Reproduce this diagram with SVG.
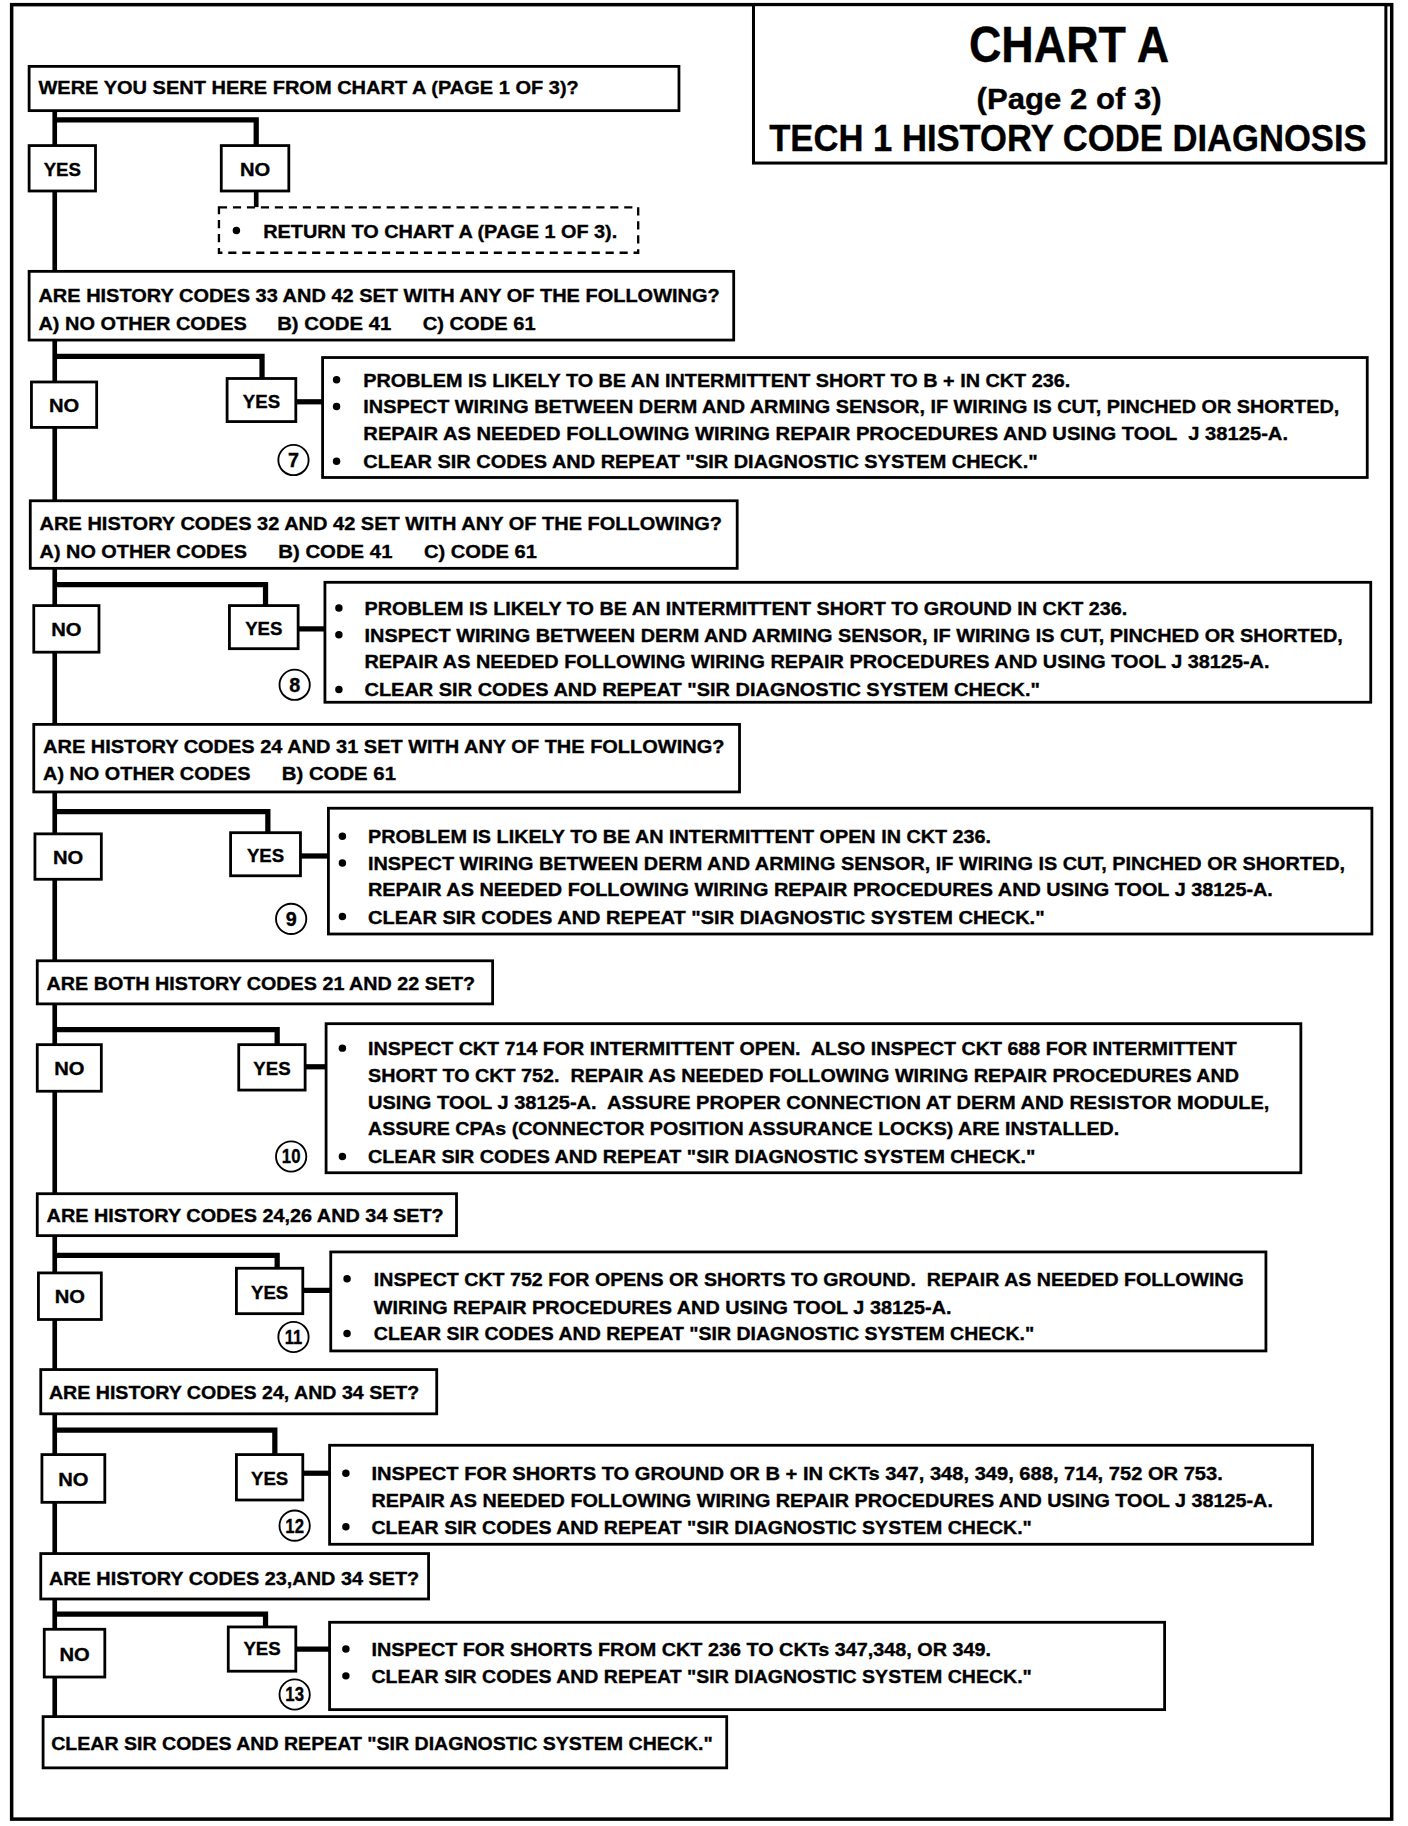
<svg xmlns="http://www.w3.org/2000/svg" width="1408" height="1826" viewBox="0 0 1408 1826">
<style>
.box{fill:#fff;stroke:#000;stroke-width:2.4}
.dash{fill:#fff;stroke:#000;stroke-width:2;stroke-dasharray:7 5}
.t{font-family:"Liberation Sans",Arial,sans-serif;font-weight:bold;font-size:16.5px;fill:#000;stroke:#000;stroke-width:0.3;white-space:pre}
.c{text-anchor:middle}
.conn{stroke:#000;stroke-width:4.5;fill:none}
.thin{stroke:#000;stroke-width:4;fill:none}
.num{fill:#fff;stroke:#000;stroke-width:1.6}
.b{fill:#000}
</style>
<rect width="1408" height="1826" fill="#fff"/>
<g transform="scale(1.1646)">
<rect id="frame" x="10" y="4" width="1185" height="1558" fill="none" stroke="#000" stroke-width="3"/>

<g id="connectors">
<path class="thin" d="M47,95 V1474"/>
<path class="conn" d="M47,103 H220 V125"/>
<path class="thin" d="M220,164 V178"/>
<path class="conn" d="M47,306 H225 V325"/>
<path class="conn" d="M254,345 H278"/>
<path class="conn" d="M47,502 H228 V520"/>
<path class="conn" d="M256,540 H280"/>
<path class="conn" d="M47,697 H230 V715"/>
<path class="conn" d="M258,735 H283"/>
<path class="conn" d="M47,884 H238 V897"/>
<path class="conn" d="M262,916 H281"/>
<path class="conn" d="M47,1078 H238 V1089"/>
<path class="conn" d="M260,1108 H285"/>
<path class="conn" d="M47,1228 H236 V1249"/>
<path class="conn" d="M260,1265 H284"/>
<path class="conn" d="M47,1386 H228 V1397"/>
<path class="conn" d="M254,1416 H284"/>
</g>

<g id="title">
<rect x="647" y="4" width="543" height="136" fill="#fff" stroke="#000" stroke-width="2.6"/>
<text class="t c" x="918" y="53" style="font-size:43px" textLength="172" lengthAdjust="spacingAndGlyphs">CHART A</text>
<text class="t c" x="918" y="94" style="font-size:25px" textLength="159" lengthAdjust="spacingAndGlyphs">(Page 2 of 3)</text>
<text class="t c" x="917" y="130" style="font-size:31px" textLength="513" lengthAdjust="spacingAndGlyphs">TECH 1 HISTORY CODE DIAGNOSIS</text>
</g>

<g id="q0">
<rect class="box" x="25" y="57" width="558" height="38"/>
<text class="t" x="33" y="81" textLength="464" lengthAdjust="spacingAndGlyphs">WERE YOU SENT HERE FROM CHART A (PAGE 1 OF 3)?</text>
</g>
<g id="q0-yes">
<rect class="box" x="25" y="125" width="57" height="39"/>
<text class="t c" x="53.5" y="151" textLength="32" lengthAdjust="spacingAndGlyphs">YES</text>
</g>
<g id="q0-no">
<rect class="box" x="190" y="125" width="58" height="39"/>
<text class="t c" x="219" y="151" textLength="26" lengthAdjust="spacingAndGlyphs">NO</text>
</g>
<g id="return">
<rect class="dash" x="188" y="178" width="360" height="39"/>
<circle class="b" cx="203" cy="198" r="3.2"/>
<text class="t" x="226" y="204" textLength="304" lengthAdjust="spacingAndGlyphs">RETURN TO CHART A (PAGE 1 OF 3).</text>
</g>

<g id="q1">
<rect class="box" x="25" y="233" width="605" height="59"/>
<text class="t" x="33" y="259" textLength="585" lengthAdjust="spacingAndGlyphs">ARE HISTORY CODES 33 AND 42 SET WITH ANY OF THE FOLLOWING?</text>
<text class="t" x="33" y="283" textLength="179" lengthAdjust="spacingAndGlyphs">A) NO OTHER CODES</text>
<text class="t" x="238" y="283" textLength="98" lengthAdjust="spacingAndGlyphs">B) CODE 41</text>
<text class="t" x="363" y="283" textLength="97" lengthAdjust="spacingAndGlyphs">C) CODE 61</text>
</g>
<g id="q1-no">
<rect class="box" x="27" y="328" width="56" height="39"/>
<text class="t c" x="55" y="354" textLength="26" lengthAdjust="spacingAndGlyphs">NO</text>
</g>
<g id="q1-yes">
<rect class="box" x="195" y="325" width="59" height="37"/>
<text class="t c" x="224.5" y="350" textLength="32" lengthAdjust="spacingAndGlyphs">YES</text>
</g>
<g id="a7">
<rect class="box" x="277" y="307" width="897" height="103"/>
<circle class="b" cx="289" cy="326" r="3.2"/>
<circle class="b" cx="289" cy="349" r="3.2"/>
<circle class="b" cx="289" cy="396" r="3.2"/>
<text class="t" x="312" y="332" textLength="607" lengthAdjust="spacingAndGlyphs">PROBLEM IS LIKELY TO BE AN INTERMITTENT SHORT TO B + IN CKT 236.</text>
<text class="t" x="312" y="355" textLength="838" lengthAdjust="spacingAndGlyphs">INSPECT WIRING BETWEEN DERM AND ARMING SENSOR, IF WIRING IS CUT, PINCHED OR SHORTED,</text>
<text class="t" x="312" y="378" textLength="794" lengthAdjust="spacingAndGlyphs">REPAIR AS NEEDED FOLLOWING WIRING REPAIR PROCEDURES AND USING TOOL  J 38125-A.</text>
<text class="t" x="312" y="402" textLength="579" lengthAdjust="spacingAndGlyphs">CLEAR SIR CODES AND REPEAT "SIR DIAGNOSTIC SYSTEM CHECK."</text>
</g>
<g id="n7">
<circle class="num" cx="252" cy="395" r="13"/>
<text class="t c" x="252" y="401" style="font-size:17px">7</text>
</g>

<g id="q2">
<rect class="box" x="26" y="430" width="607" height="58"/>
<text class="t" x="34" y="455" textLength="586" lengthAdjust="spacingAndGlyphs">ARE HISTORY CODES 32 AND 42 SET WITH ANY OF THE FOLLOWING?</text>
<text class="t" x="34" y="479" textLength="178" lengthAdjust="spacingAndGlyphs">A) NO OTHER CODES</text>
<text class="t" x="239" y="479" textLength="98" lengthAdjust="spacingAndGlyphs">B) CODE 41</text>
<text class="t" x="364" y="479" textLength="97" lengthAdjust="spacingAndGlyphs">C) CODE 61</text>
</g>
<g id="q2-no">
<rect class="box" x="29" y="520" width="56" height="40"/>
<text class="t c" x="57" y="546" textLength="26" lengthAdjust="spacingAndGlyphs">NO</text>
</g>
<g id="q2-yes">
<rect class="box" x="197" y="520" width="59" height="37"/>
<text class="t c" x="226.5" y="545" textLength="32" lengthAdjust="spacingAndGlyphs">YES</text>
</g>
<g id="a8">
<rect class="box" x="279" y="500" width="898" height="103"/>
<circle class="b" cx="291" cy="522" r="3.2"/>
<circle class="b" cx="291" cy="545" r="3.2"/>
<circle class="b" cx="291" cy="592" r="3.2"/>
<text class="t" x="313" y="528" textLength="655" lengthAdjust="spacingAndGlyphs">PROBLEM IS LIKELY TO BE AN INTERMITTENT SHORT TO GROUND IN CKT 236.</text>
<text class="t" x="313" y="551" textLength="840" lengthAdjust="spacingAndGlyphs">INSPECT WIRING BETWEEN DERM AND ARMING SENSOR, IF WIRING IS CUT, PINCHED OR SHORTED,</text>
<text class="t" x="313" y="574" textLength="777" lengthAdjust="spacingAndGlyphs">REPAIR AS NEEDED FOLLOWING WIRING REPAIR PROCEDURES AND USING TOOL J 38125-A.</text>
<text class="t" x="313" y="598" textLength="580" lengthAdjust="spacingAndGlyphs">CLEAR SIR CODES AND REPEAT "SIR DIAGNOSTIC SYSTEM CHECK."</text>
</g>
<g id="n8">
<circle class="num" cx="253" cy="588" r="13"/>
<text class="t c" x="253" y="594" style="font-size:17px">8</text>
</g>

<g id="q3">
<rect class="box" x="29" y="622" width="606" height="58"/>
<text class="t" x="37" y="647" textLength="585" lengthAdjust="spacingAndGlyphs">ARE HISTORY CODES 24 AND 31 SET WITH ANY OF THE FOLLOWING?</text>
<text class="t" x="37" y="670" textLength="178" lengthAdjust="spacingAndGlyphs">A) NO OTHER CODES</text>
<text class="t" x="242" y="670" textLength="98" lengthAdjust="spacingAndGlyphs">B) CODE 61</text>
</g>
<g id="q3-no">
<rect class="box" x="30" y="716" width="57" height="39"/>
<text class="t c" x="58.5" y="742" textLength="26" lengthAdjust="spacingAndGlyphs">NO</text>
</g>
<g id="q3-yes">
<rect class="box" x="198" y="715" width="60" height="37"/>
<text class="t c" x="228" y="740" textLength="32" lengthAdjust="spacingAndGlyphs">YES</text>
</g>
<g id="a9">
<rect class="box" x="282" y="694" width="896" height="108"/>
<circle class="b" cx="294" cy="718" r="3.2"/>
<circle class="b" cx="294" cy="741" r="3.2"/>
<circle class="b" cx="294" cy="787" r="3.2"/>
<text class="t" x="316" y="724" textLength="535" lengthAdjust="spacingAndGlyphs">PROBLEM IS LIKELY TO BE AN INTERMITTENT OPEN IN CKT 236.</text>
<text class="t" x="316" y="747" textLength="839" lengthAdjust="spacingAndGlyphs">INSPECT WIRING BETWEEN DERM AND ARMING SENSOR, IF WIRING IS CUT, PINCHED OR SHORTED,</text>
<text class="t" x="316" y="769" textLength="777" lengthAdjust="spacingAndGlyphs">REPAIR AS NEEDED FOLLOWING WIRING REPAIR PROCEDURES AND USING TOOL J 38125-A.</text>
<text class="t" x="316" y="793" textLength="581" lengthAdjust="spacingAndGlyphs">CLEAR SIR CODES AND REPEAT "SIR DIAGNOSTIC SYSTEM CHECK."</text>
</g>
<g id="n9">
<circle class="num" cx="250" cy="789" r="13"/>
<text class="t c" x="250" y="795" style="font-size:17px">9</text>
</g>

<g id="q4">
<rect class="box" x="32" y="825" width="391" height="37"/>
<text class="t" x="40" y="850" textLength="368" lengthAdjust="spacingAndGlyphs">ARE BOTH HISTORY CODES 21 AND 22 SET?</text>
</g>
<g id="q4-no">
<rect class="box" x="32" y="897" width="55" height="40"/>
<text class="t c" x="59.5" y="923" textLength="26" lengthAdjust="spacingAndGlyphs">NO</text>
</g>
<g id="q4-yes">
<rect class="box" x="205" y="897" width="57" height="39"/>
<text class="t c" x="233.5" y="923" textLength="32" lengthAdjust="spacingAndGlyphs">YES</text>
</g>
<g id="a10">
<rect class="box" x="280" y="879" width="837" height="128"/>
<circle class="b" cx="294" cy="900" r="3.2"/>
<circle class="b" cx="294" cy="993" r="3.2"/>
<text class="t" x="316" y="906" textLength="746" lengthAdjust="spacingAndGlyphs">INSPECT CKT 714 FOR INTERMITTENT OPEN.  ALSO INSPECT CKT 688 FOR INTERMITTENT</text>
<text class="t" x="316" y="929" textLength="748" lengthAdjust="spacingAndGlyphs">SHORT TO CKT 752.  REPAIR AS NEEDED FOLLOWING WIRING REPAIR PROCEDURES AND</text>
<text class="t" x="316" y="952" textLength="774" lengthAdjust="spacingAndGlyphs">USING TOOL J 38125-A.  ASSURE PROPER CONNECTION AT DERM AND RESISTOR MODULE,</text>
<text class="t" x="316" y="975" textLength="645" lengthAdjust="spacingAndGlyphs">ASSURE CPAs (CONNECTOR POSITION ASSURANCE LOCKS) ARE INSTALLED.</text>
<text class="t" x="316" y="999" textLength="573" lengthAdjust="spacingAndGlyphs">CLEAR SIR CODES AND REPEAT "SIR DIAGNOSTIC SYSTEM CHECK."</text>
</g>
<g id="n10">
<circle class="num" cx="250" cy="993" r="13"/>
<text class="t c" x="250" y="999" style="font-size:17px" textLength="16" lengthAdjust="spacingAndGlyphs">10</text>
</g>

<g id="q5">
<rect class="box" x="32" y="1025" width="360" height="36"/>
<text class="t" x="40" y="1049" textLength="341" lengthAdjust="spacingAndGlyphs">ARE HISTORY CODES 24,26 AND 34 SET?</text>
</g>
<g id="q5-no">
<rect class="box" x="33" y="1093" width="54" height="40"/>
<text class="t c" x="60" y="1119" textLength="26" lengthAdjust="spacingAndGlyphs">NO</text>
</g>
<g id="q5-yes">
<rect class="box" x="203" y="1089" width="57" height="39"/>
<text class="t c" x="231.5" y="1115" textLength="32" lengthAdjust="spacingAndGlyphs">YES</text>
</g>
<g id="a11">
<rect class="box" x="284" y="1075" width="803" height="85"/>
<circle class="b" cx="298" cy="1098" r="3.2"/>
<circle class="b" cx="298" cy="1145" r="3.2"/>
<text class="t" x="321" y="1104" textLength="747" lengthAdjust="spacingAndGlyphs">INSPECT CKT 752 FOR OPENS OR SHORTS TO GROUND.  REPAIR AS NEEDED FOLLOWING</text>
<text class="t" x="321" y="1128" textLength="496" lengthAdjust="spacingAndGlyphs">WIRING REPAIR PROCEDURES AND USING TOOL J 38125-A.</text>
<text class="t" x="321" y="1151" textLength="567" lengthAdjust="spacingAndGlyphs">CLEAR SIR CODES AND REPEAT "SIR DIAGNOSTIC SYSTEM CHECK."</text>
</g>
<g id="n11">
<circle class="num" cx="252" cy="1148" r="13"/>
<text class="t c" x="252" y="1154" style="font-size:17px" textLength="15" lengthAdjust="spacingAndGlyphs">11</text>
</g>

<g id="q6">
<rect class="box" x="35" y="1176" width="340" height="38"/>
<text class="t" x="42" y="1201" textLength="318" lengthAdjust="spacingAndGlyphs">ARE HISTORY CODES 24, AND 34 SET?</text>
</g>
<g id="q6-no">
<rect class="box" x="36" y="1249" width="54" height="41"/>
<text class="t c" x="63" y="1276" textLength="26" lengthAdjust="spacingAndGlyphs">NO</text>
</g>
<g id="q6-yes">
<rect class="box" x="203" y="1249" width="57" height="39"/>
<text class="t c" x="231.5" y="1275" textLength="32" lengthAdjust="spacingAndGlyphs">YES</text>
</g>
<g id="a12">
<rect class="box" x="283" y="1241" width="844" height="85"/>
<circle class="b" cx="297" cy="1265" r="3.2"/>
<circle class="b" cx="297" cy="1311" r="3.2"/>
<text class="t" x="319" y="1271" textLength="731" lengthAdjust="spacingAndGlyphs">INSPECT FOR SHORTS TO GROUND OR B + IN CKTs 347, 348, 349, 688, 714, 752 OR 753.</text>
<text class="t" x="319" y="1294" textLength="774" lengthAdjust="spacingAndGlyphs">REPAIR AS NEEDED FOLLOWING WIRING REPAIR PROCEDURES AND USING TOOL J 38125-A.</text>
<text class="t" x="319" y="1317" textLength="567" lengthAdjust="spacingAndGlyphs">CLEAR SIR CODES AND REPEAT "SIR DIAGNOSTIC SYSTEM CHECK."</text>
</g>
<g id="n12">
<circle class="num" cx="253" cy="1310" r="13"/>
<text class="t c" x="253" y="1316" style="font-size:17px" textLength="16" lengthAdjust="spacingAndGlyphs">12</text>
</g>

<g id="q7">
<rect class="box" x="35" y="1334" width="333" height="39"/>
<text class="t" x="42" y="1361" textLength="318" lengthAdjust="spacingAndGlyphs">ARE HISTORY CODES 23,AND 34 SET?</text>
</g>
<g id="q7-no">
<rect class="box" x="38" y="1399" width="52" height="41"/>
<text class="t c" x="64" y="1426" textLength="26" lengthAdjust="spacingAndGlyphs">NO</text>
</g>
<g id="q7-yes">
<rect class="box" x="196" y="1397" width="58" height="38"/>
<text class="t c" x="225" y="1421" textLength="32" lengthAdjust="spacingAndGlyphs">YES</text>
</g>
<g id="a13">
<rect class="box" x="283" y="1393" width="717" height="75"/>
<circle class="b" cx="297" cy="1416" r="3.2"/>
<circle class="b" cx="297" cy="1439" r="3.2"/>
<text class="t" x="319" y="1422" textLength="532" lengthAdjust="spacingAndGlyphs">INSPECT FOR SHORTS FROM CKT 236 TO CKTs 347,348, OR 349.</text>
<text class="t" x="319" y="1445" textLength="567" lengthAdjust="spacingAndGlyphs">CLEAR SIR CODES AND REPEAT "SIR DIAGNOSTIC SYSTEM CHECK."</text>
</g>
<g id="n13">
<circle class="num" cx="253" cy="1455" r="13"/>
<text class="t c" x="253" y="1461" style="font-size:17px" textLength="16" lengthAdjust="spacingAndGlyphs">13</text>
</g>

<g id="final">
<rect class="box" x="37" y="1474" width="587" height="44"/>
<text class="t" x="44" y="1503" textLength="568" lengthAdjust="spacingAndGlyphs">CLEAR SIR CODES AND REPEAT "SIR DIAGNOSTIC SYSTEM CHECK."</text>
</g>
</g>
</svg>
